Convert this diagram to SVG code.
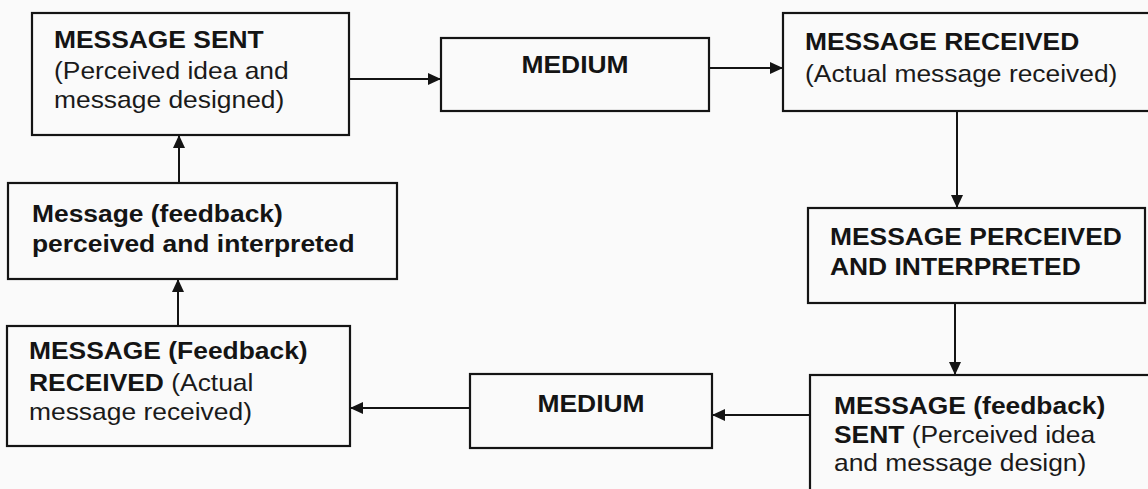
<svg xmlns="http://www.w3.org/2000/svg" width="1148" height="489" viewBox="0 0 1148 489">
<defs>
<style>
.box{fill:none;stroke:#141414;stroke-width:2.2}
.b{font-family:"Liberation Sans",Arial,sans-serif;font-weight:bold;font-size:24px;fill:#141414}
.r{font-family:"Liberation Sans",Arial,sans-serif;font-weight:normal;font-size:24px;fill:#1a1a1a}
.c{stroke:#141414;stroke-width:2;fill:none;marker-end:url(#ah)}
</style>
<marker id="ah" markerUnits="userSpaceOnUse" markerWidth="14" markerHeight="14" viewBox="0 0 14 14" refX="13" refY="7" orient="auto">
<path d="M0,1 L13,7 L0,13 Z" fill="#141414"/>
</marker>
</defs>
<rect width="1148" height="489" fill="#fafafa"/>

<g id="connectors">
<line class="c" x1="349" y1="79" x2="441" y2="79"/>
<line class="c" x1="709" y1="68" x2="783" y2="68"/>
<line class="c" x1="957" y1="111" x2="957" y2="208"/>
<line class="c" x1="955" y1="303" x2="955" y2="375"/>
<line class="c" x1="810" y1="415" x2="712" y2="415"/>
<line class="c" x1="470" y1="408" x2="350" y2="408"/>
<line class="c" x1="178" y1="326" x2="178" y2="279"/>
<line class="c" x1="179" y1="183" x2="179" y2="135"/>
</g>

<g id="message-sent">
<rect class="box" x="32" y="13" width="317" height="122"/>
<g transform="translate(54,0) scale(1.1,1)">
<text class="b" x="0" y="48">MESSAGE SENT</text>
<text class="r" x="0" y="79">(Perceived idea and</text>
<text class="r" x="0" y="108">message designed)</text>
</g>
</g>

<g id="medium-top">
<rect class="box" x="441" y="38" width="268" height="73"/>
<g transform="translate(575,0) scale(1.1,1)">
<text class="b" x="0" y="73" text-anchor="middle">MEDIUM</text>
</g>
</g>

<g id="message-received">
<rect class="box" x="783" y="13" width="372" height="98"/>
<g transform="translate(805,0) scale(1.1,1)">
<text class="b" x="0" y="50">MESSAGE RECEIVED</text>
<text class="r" x="0" y="82">(Actual message received)</text>
</g>
</g>

<g id="message-perceived">
<rect class="box" x="808" y="208" width="337" height="95"/>
<g transform="translate(830,0) scale(1.1,1)">
<text class="b" x="0" y="245">MESSAGE PERCEIVED</text>
<text class="b" x="0" y="275">AND INTERPRETED</text>
</g>
</g>

<g id="feedback-sent">
<rect class="box" x="810" y="375" width="345" height="125"/>
<g transform="translate(834,0) scale(1.1,1)">
<text class="b" x="0" y="414">MESSAGE (feedback)</text>
<text x="0" y="443"><tspan class="b">SENT</tspan><tspan class="r"> (Perceived idea</tspan></text>
<text class="r" x="0" y="471">and message design)</text>
</g>
</g>

<g id="medium-bottom">
<rect class="box" x="470" y="374" width="242" height="74"/>
<g transform="translate(591,0) scale(1.1,1)">
<text class="b" x="0" y="412" text-anchor="middle">MEDIUM</text>
</g>
</g>

<g id="feedback-received">
<rect class="box" x="7" y="326" width="343" height="120"/>
<g transform="translate(29,0) scale(1.1,1)">
<text class="b" x="0" y="359">MESSAGE (Feedback)</text>
<text x="0" y="391"><tspan class="b">RECEIVED</tspan><tspan class="r"> (Actual</tspan></text>
<text class="r" x="0" y="420">message received)</text>
</g>
</g>

<g id="feedback-perceived">
<rect class="box" x="8" y="183" width="389" height="96"/>
<g transform="translate(32,0) scale(1.1,1)">
<text class="b" x="0" y="222">Message (feedback)</text>
<text class="b" x="0" y="252">perceived and interpreted</text>
</g>
</g>
</svg>
